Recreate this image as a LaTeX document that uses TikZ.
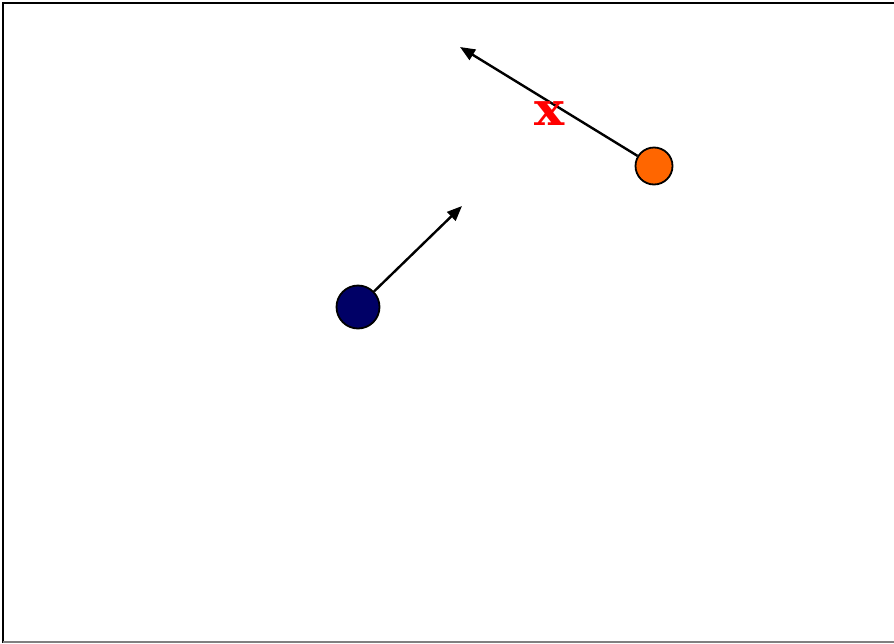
\documentclass[tikz,border=0pt]{standalone}
\usepackage{fontspec}
\newfontfamily\crossfont{DejaVu Serif}
\usetikzlibrary{arrows.meta}
\definecolor{dotorange}{RGB}{255,102,0}
\definecolor{dotnavy}{RGB}{0,0,102}
\tikzset{
  dot/.style={circle, draw=black, line width=1.8pt, inner sep=0pt},
  vec/.style={-{Triangle[length=15pt,width=12pt]}, line width=2.4pt},
  cross/.style={text=red, font=\fontsize{46}{46}\selectfont\crossfont\bfseries, inner sep=0pt}
}
\begin{document}
\begin{tikzpicture}[x=1pt,y=-1pt]
\useasboundingbox (0,0) rectangle (894,643);
\draw[line width=2.4pt] (3,643) -- (3,3) -- (894,3);
\draw[line width=1.5pt, gray] (3,642) -- (894,642);
\node[dot, fill=dotorange, minimum size=37pt] (o) at (654,166) {};
\node[dot, fill=dotnavy, minimum size=43pt] (n) at (358,307) {};
\coordinate (ot) at (460,47);
\coordinate (nt) at (462,206);
\draw[vec] (o) -- (ot);
\draw[vec] (n) -- (nt);
\node[cross, xscale=1.1] (x) at (550,114) {x};
\end{tikzpicture}
\end{document}
